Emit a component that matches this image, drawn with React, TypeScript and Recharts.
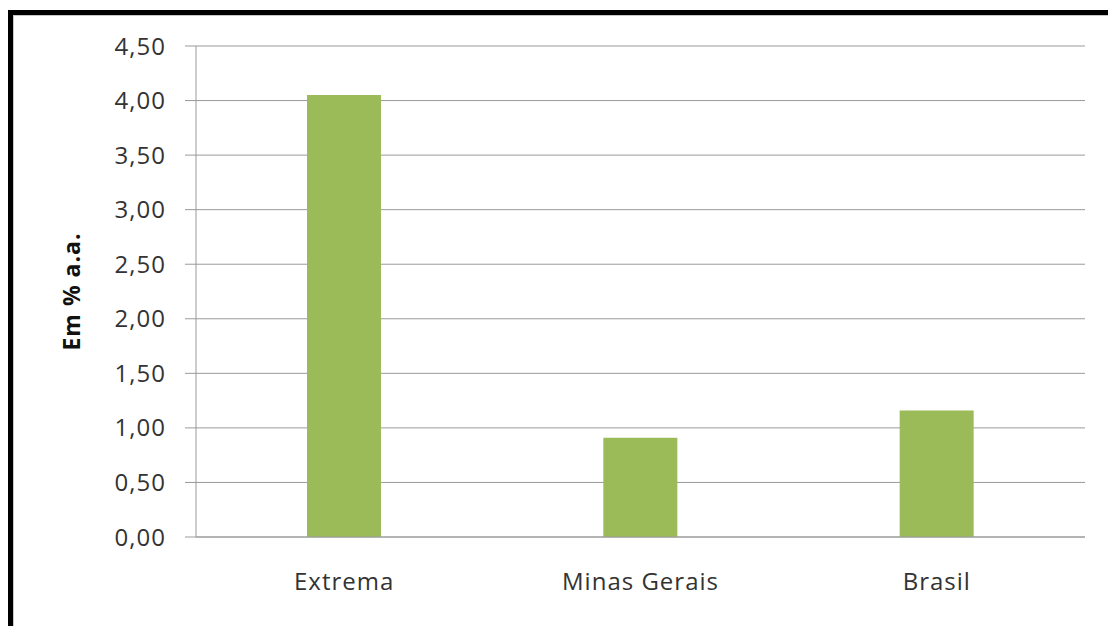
import { Bar, BarChart, CartesianGrid, Label, XAxis, YAxis } from "recharts";

const categories = ["Extrema", "Minas Gerais", "Brasil"];
const values = [4.05, 0.91, 1.16];
const yTicks = [0, 0.5, 1, 1.5, 2, 2.5, 3, 3.5, 4, 4.5];

const data = categories.map((name, i) => ({ name, value: values[i] }));

const GRID = "#9a9a9a";
const TEXT = "#333";
const FONT = "'Open Sans', sans-serif";

const tickStyle = { fill: TEXT, fontSize: 24, fontFamily: FONT, style: { letterSpacing: "1px" } };

export default function App() {
  return (
    <div
      style={{
        position: "absolute",
        left: 0,
        top: 0,
        width: 1108,
        height: 626,
        background: "#fff",
        overflow: "hidden",
        fontFamily: FONT,
      }}
    >
      {/* frame: thick black top/left edge with a thin grey inner line */}
      <div
        style={{
          position: "absolute",
          left: 8,
          top: 10,
          width: 1200,
          height: 700,
          borderTop: "5px solid #000",
          borderLeft: "5px solid #000",
        }}
      >
        <div
          style={{
            position: "absolute",
            left: 0,
            top: 0,
            width: 1200,
            height: 700,
            borderTop: "1px solid #c8c8c8",
            borderLeft: "1px solid #c8c8c8",
          }}
        />
      </div>
      <div style={{ position: "absolute", left: 0, top: 0 }}>
        <BarChart
          width={1108}
          height={626}
          data={data}
          margin={{ top: 46, right: 23, bottom: 0, left: 0 }}
        >
          <CartesianGrid vertical={false} stroke={GRID} strokeWidth={1} />
          <XAxis
            dataKey="name"
            height={89}
            axisLine={{ stroke: GRID }}
            tickLine={false}
            tickSize={0}
            tickMargin={36}
            tick={tickStyle}
          />
          <YAxis
            width={196}
            domain={[0, 4.5]}
            ticks={yTicks}
            interval={0}
            axisLine={{ stroke: GRID }}
            tickLine={{ stroke: GRID }}
            tickSize={11}
            tickMargin={19}
            tick={tickStyle}
            tickFormatter={(v: number) => v.toFixed(2).replace(".", ",")}
          >
            <Label
              value="Em % a.a."
              angle={-90}
              position="insideLeft"
              offset={72}
              style={{
                textAnchor: "middle",
                fill: "#111",
                fontSize: 23,
                fontWeight: 700,
                fontFamily: FONT,
                letterSpacing: "1px",
              }}
            />
          </YAxis>
          <Bar dataKey="value" fill="#9BBB59" barSize={74} isAnimationActive={false} />
        </BarChart>
      </div>
    </div>
  );
}
